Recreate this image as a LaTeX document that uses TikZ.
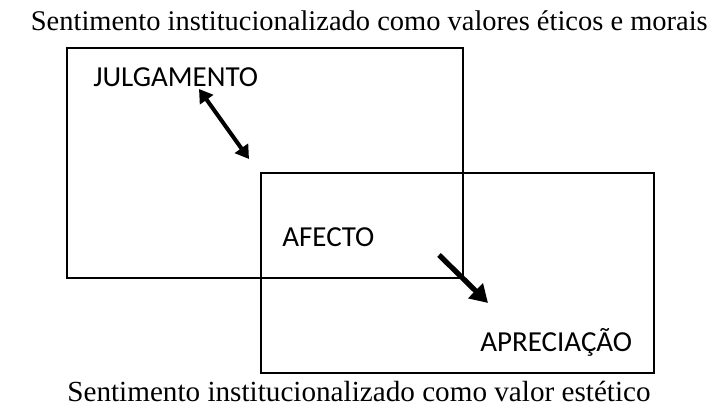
\documentclass[tikz,border=0pt]{standalone}
\usepackage{fontspec}
\setmainfont{Liberation Serif}
\newfontfamily\labelfont{Carlito}
\usetikzlibrary{arrows.meta}

\tikzset{
	caixa/.style={draw,line width=0.8pt},
	rotulo/.style={font=\labelfont\fontsize{16.5}{18}\selectfont,anchor=base west,inner sep=0pt},
	legenda/.style={font=\fontsize{16.6}{18}\selectfont,anchor=base west,inner sep=0pt},
}

\begin{document}
\begin{tikzpicture}
	\useasboundingbox (0,0) rectangle (14.2,8.12);
	
	\draw[caixa] (1.34,2.56) rectangle (9.26,7.16);
	\draw[caixa] (5.22,0.66) rectangle (13.08,4.66);
	
	\node[legenda,anchor=base east,font=\fontsize{16.2}{18}\selectfont] (topo) at (14.16,7.5) {Sentimento institucionalizado como valores éticos e morais};
	\node[legenda] (base) at (1.34,0.08) {Sentimento institucionalizado como valor estético};
	
	\node[rotulo] (julg) at (1.86,6.38) {JULGAMENTO};
	\node[rotulo] (afec) at (5.64,3.18) {AFECTO};
	\node[rotulo] (apre) at (9.6,1.08) {APRECIAÇÃO};
	
	\coordinate (j1) at (3.98,6.34);
	\coordinate (j2) at (4.98,4.94);
	\coordinate (a1) at (8.78,3.02);
	\coordinate (a2) at (9.76,2.06);
	
	\draw[line width=2.3pt,{Triangle[length=7.5pt,width=9pt]}-{Triangle[length=7.5pt,width=9pt]}] (j1) -- (j2);
	\draw[line width=3pt,-{Triangle[length=10pt,width=11.5pt]}] (a1) -- (a2);
\end{tikzpicture}
\end{document}
